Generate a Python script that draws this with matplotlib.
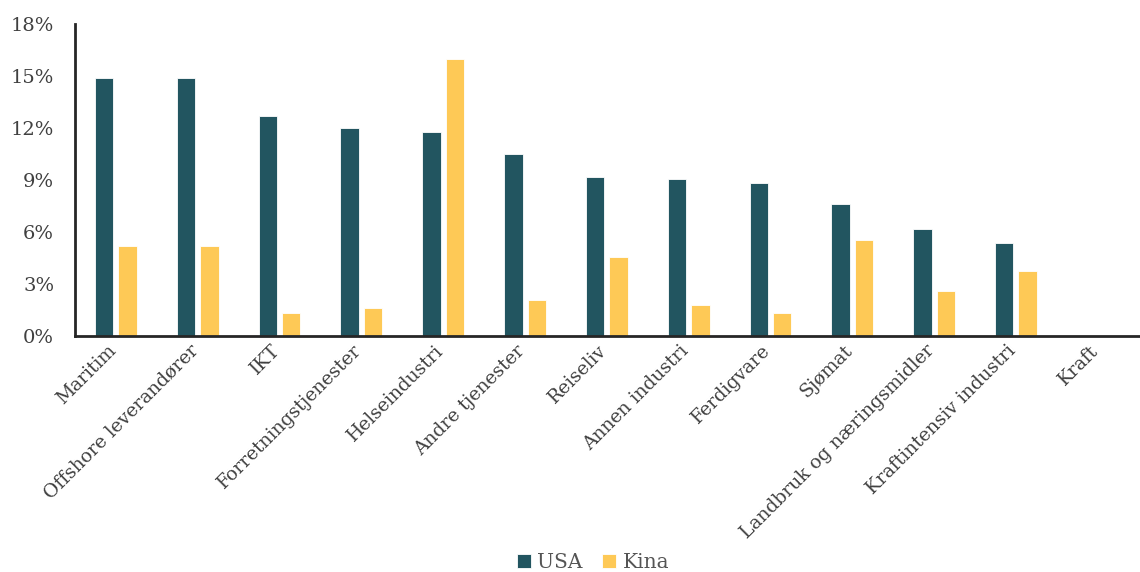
import matplotlib
matplotlib.use("Agg")
import matplotlib.pyplot as plt
import matplotlib.transforms as mtransforms
import numpy as np
from matplotlib.ticker import FuncFormatter

categories = ["Maritim", "Offshore leverandører", "IKT", "Forretningstjenester",
              "Helseindustri", "Andre tjenester", "Reiseliv", "Annen industri",
              "Ferdigvare", "Sjømat", "Landbruk og næringsmidler",
              "Kraftintensiv industri", "Kraft"]
usa = [14.9, 14.9, 12.7, 12.0, 11.75, 10.5, 9.2, 9.05, 8.8, 7.6, 6.15, 5.35, 0.0]
kina = [5.2, 5.2, 1.3, 1.6, 16.0, 2.05, 4.55, 1.8, 1.35, 5.55, 2.6, 3.75, 0.0]
yticks = [0, 3, 6, 9, 12, 15, 18]

plt.rcParams['font.family'] = ['DejaVu Serif']
fig = plt.figure(figsize=(11.4, 5.72), dpi=100)
ax = fig.add_axes([0.0658, 0.4126, 0.933, 0.5454])

x = np.arange(len(categories))
w = 0.225
off = 0.143
ax.bar(x - off, usa, width=w, color="#225560", edgecolor="white", linewidth=0.6, label="USA")
ax.bar(x + off, kina, width=w, color="#FEC956", edgecolor="white", linewidth=0.6, label="Kina")

ax.set_xlim(-0.5, len(categories) - 0.5)
ax.set_ylim(0, 18)
ax.set_yticks(yticks)
ax.yaxis.set_major_formatter(FuncFormatter(lambda v, p: f"{int(v)}%"))
ax.tick_params(axis='y', length=0, pad=15, labelsize=14, labelcolor="#404040")
ax.set_xticks(x)
ax.set_xticklabels(categories, rotation=45, ha='right', rotation_mode='anchor')
ax.tick_params(axis='x', length=0, pad=4, labelsize=13.5, labelcolor="#404040")
shift = mtransforms.ScaledTranslation(-9 / 100, 0, fig.dpi_scale_trans)
for lbl in ax.get_xticklabels():
    lbl.set_transform(lbl.get_transform() + shift)

for s in ["top", "right"]:
    ax.spines[s].set_visible(False)
for s in ["left", "bottom"]:
    ax.spines[s].set_color("#262626")
    ax.spines[s].set_linewidth(2)

fig.legend(loc="lower center", bbox_to_anchor=(0.52, -0.032), ncol=2, frameon=False,
           fontsize=14.5, handlelength=0.7, handleheight=0.7, handletextpad=0.3,
           columnspacing=1.0, labelcolor="#555555")

fig.savefig("out.png", dpi=100)
